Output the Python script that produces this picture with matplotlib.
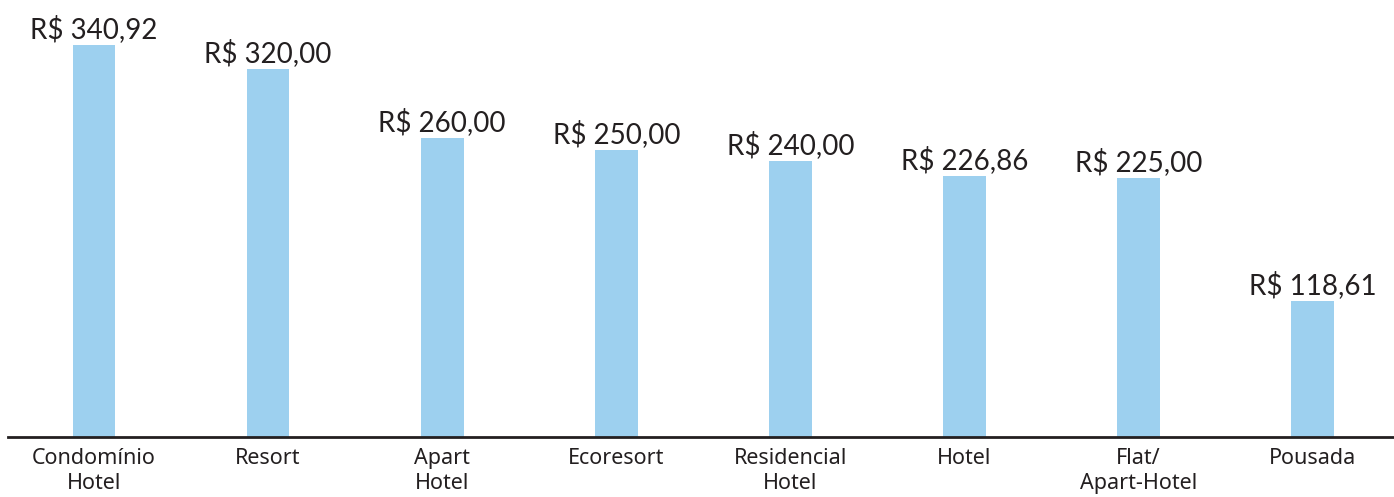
import matplotlib
matplotlib.use("Agg")
import matplotlib.pyplot as plt

categories = ["Condomínio\nHotel", "Resort", "Apart\nHotel", "Ecoresort",
              "Residencial\nHotel", "Hotel", "Flat/\nApart-Hotel", "Pousada"]
values = [340.92, 320.00, 260.00, 250.00, 240.00, 226.86, 225.00, 118.61]
value_labels = ["R$ 340,92", "R$ 320,00", "R$ 260,00", "R$ 250,00",
                "R$ 240,00", "R$ 226,86", "R$ 225,00", "R$ 118,61"]

W, H = 1394, 497
fig = plt.figure(figsize=(W / 100, H / 100), dpi=100)
ax = fig.add_axes([0, 60 / H, 1, 1 - 60 / H])

x = list(range(len(values)))
bar_color = "#9dd0ef"
ax.bar(x, values, width=0.245, color=bar_color, zorder=2)
ax.set_xlim(-0.54, 7.467)
ax.set_ylim(0, 380.3)

for xi, v, lab in zip(x, values, value_labels):
    ax.annotate(lab, (xi, v), xytext=(0, 1.5), textcoords="offset points",
                ha="center", va="bottom", fontsize=20, family="Lato",
                color="#231f20")

for s in ax.spines.values():
    s.set_visible(False)
ax.set_yticks([])
ax.set_xticks(x)
ax.set_xticklabels(categories, fontsize=15.5, family="Noto Sans",
                   color="#231f20", linespacing=1.22)
ax.tick_params(axis="x", length=0, pad=8)
ax.axhline(0, xmin=8 / W, xmax=1, color="#231f20", lw=2, zorder=3, clip_on=False)

fig.savefig("out.png", dpi=100)
